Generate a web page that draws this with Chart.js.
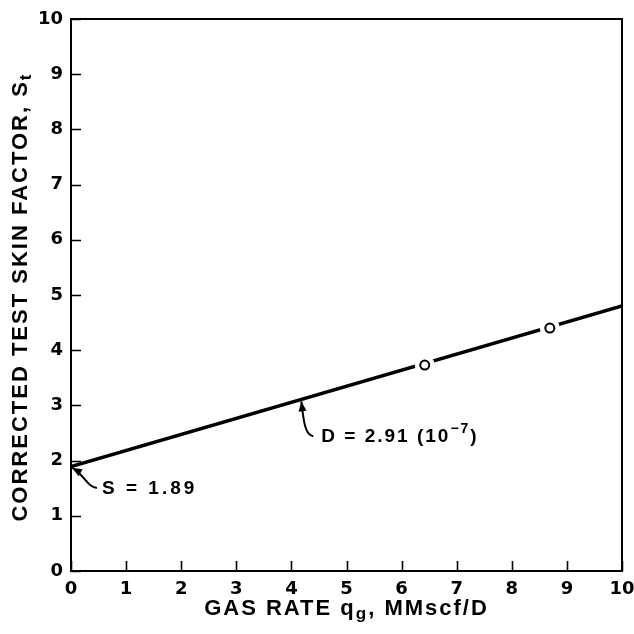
<!DOCTYPE html>
<html>
<head>
<meta charset="utf-8">
<script src="https://cdn.jsdelivr.net/npm/chart.js@4"></script>
<style>
    body { margin: 0; background: #fff; }
    canvas { display: block; }
</style>
</head>
<body>
<canvas id="skinChart" width="634" height="634"></canvas>
<script>
// fitted line S't vs gas rate
var gasRate = [0, 10];
var skinFit = [1.89, 4.80];

// measured tests
var testRate = [6.42, 8.69];
var testSkin = [3.73, 4.40];

var xTicks = [0, 1, 2, 3, 4, 5, 6, 7, 8, 9, 10];
var yTicks = [0, 1, 2, 3, 4, 5, 6, 7, 8, 9, 10];

var FONT = '"Liberation Sans", Arial, sans-serif';
var TICK_FONT = '"DejaVu Sans", sans-serif';

function toPoints(xs, ys) {
    return xs.map(function (x, i) { return { x: x, y: ys[i] }; });
}

// draw text made of pieces (for sub/superscripts)
function drawRich(ctx, parts, x, y, size, align) {
    var widths = parts.map(function (p) {
        ctx.font = 'bold ' + Math.round(size * (p.scale || 1)) + 'px ' + FONT;
        return ctx.measureText(p.text).width;
    });
    var total = widths.reduce(function (a, b) { return a + b; }, 0);
    var cx = align === 'center' ? x - total / 2 : x;
    parts.forEach(function (p, i) {
        ctx.font = 'bold ' + Math.round(size * (p.scale || 1)) + 'px ' + FONT;
        ctx.fillText(p.text, cx, y + (p.dy || 0));
        cx += widths[i];
    });
}

function drawArrow(ctx, tip, cp2, cp1, tail) {
    ctx.beginPath();
    ctx.moveTo(tail[0], tail[1]);
    ctx.bezierCurveTo(cp1[0], cp1[1], cp2[0], cp2[1], tip[0], tip[1]);
    ctx.stroke();
    var ang = Math.atan2(tip[1] - cp2[1], tip[0] - cp2[0]);
    var len = 10, half = 4;
    ctx.beginPath();
    ctx.moveTo(tip[0], tip[1]);
    ctx.lineTo(tip[0] - len * Math.cos(ang) + half * Math.sin(ang), tip[1] - len * Math.sin(ang) - half * Math.cos(ang));
    ctx.lineTo(tip[0] - len * Math.cos(ang) - half * Math.sin(ang), tip[1] - len * Math.sin(ang) + half * Math.cos(ang));
    ctx.closePath();
    ctx.fill();
}

var paperDecor = {
    id: 'paperDecor',
    afterDraw: function (chart) {
        var ctx = chart.ctx;
        var a = chart.chartArea;
        var xs = chart.scales.x, ys = chart.scales.y;
        ctx.save();
        ctx.strokeStyle = '#000';
        ctx.fillStyle = '#000';

        // frame
        ctx.lineWidth = 2;
        ctx.strokeRect(a.left, a.top, a.right - a.left, a.bottom - a.top);

        // inward ticks
        ctx.beginPath();
        xTicks.forEach(function (v) {
            var px = Math.round(xs.getPixelForValue(v)) + 0.5;
            ctx.moveTo(px, a.bottom);
            ctx.lineTo(px, a.bottom - 10);
        });
        yTicks.forEach(function (v) {
            var py = Math.round(ys.getPixelForValue(v)) + 0.5;
            ctx.moveTo(a.left, py);
            ctx.lineTo(a.left + 10, py);
        });
        ctx.lineWidth = 1.6;
        ctx.stroke();

        // axis titles
        ctx.letterSpacing = '2px';
        ctx.textBaseline = 'middle';
        ctx.textAlign = 'left';
        drawRich(ctx, [
            { text: 'GAS RATE q' },
            { text: 'g', scale: 0.75, dy: 5 },
            { text: ', MMscf/D' }
        ], (a.left + a.right) / 2, 609, 22, 'center');

        ctx.save();
        ctx.translate(21, (a.top + a.bottom) / 2 + 2);
        ctx.rotate(-Math.PI / 2);
        drawRich(ctx, [
            { text: 'CORRECTED TEST SKIN FACTOR, S' },
            { text: 't', scale: 0.75, dy: 5 }
        ], 0, 0, 22, 'center');
        ctx.restore();

        // annotations
        ctx.lineWidth = 2;
        ctx.letterSpacing = '2px';
        var d = [xs.getPixelForValue(4.18), ys.getPixelForValue(3.11)];
        drawArrow(ctx, [d[0], d[1] + 2], [d[0] + 2, d[1] + 18], [d[0] + 3, d[1] + 36], [d[0] + 12, d[1] + 37]);
        drawRich(ctx, [
            { text: 'D = 2.91 (10' },
            { text: '\u22127', scale: 0.72, dy: -7 },
            { text: ')' }
        ], d[0] + 20, d[1] + 37, 19, 'left');

        var s = [xs.getPixelForValue(0), ys.getPixelForValue(1.89)];
        drawArrow(ctx, [s[0] + 1, s[1] + 1], [s[0] + 13, s[1] + 8], [s[0] + 18, s[1] + 22], [s[0] + 26, s[1] + 21]);
        ctx.letterSpacing = '3px';
        drawRich(ctx, [{ text: 'S = 1.89' }], s[0] + 31, s[1] + 22, 19, 'left');

        ctx.restore();
    }
};

var ctx = document.getElementById('skinChart').getContext('2d');
var skinChart = new Chart(ctx, {
    type: 'scatter',
    data: {
        datasets: [{
            label: 'fit',
            data: toPoints(gasRate, skinFit),
            showLine: true,
            borderColor: '#000',
            borderWidth: 3.5,
            pointRadius: 0,
            order: 3
        }, {
            label: 'gap',
            data: toPoints(testRate, testSkin),
            pointRadius: 10,
            pointBorderWidth: 0,
            pointBackgroundColor: '#fff',
            pointBorderColor: '#fff',
            order: 2
        }, {
            label: 'tests',
            data: toPoints(testRate, testSkin),
            pointRadius: 4.5,
            pointBorderWidth: 2,
            pointBackgroundColor: '#fff',
            pointBorderColor: '#000',
            order: 1
        }]
    },
    options: {
        responsive: false,
        animation: false,
        devicePixelRatio: 1,
        layout: { padding: { top: 19, right: 12, left: 0, bottom: 0 } },
        plugins: {
            legend: { display: false },
            tooltip: { enabled: false }
        },
        scales: {
            x: {
                type: 'linear',
                min: 0,
                max: 10,
                afterFit: function (scale) {
                    scale.height = 63;
                    scale.paddingLeft = 0;
                    scale.paddingRight = 0;
                },
                afterBuildTicks: function (scale) {
                    scale.ticks = xTicks.map(function (v) { return { value: v }; });
                },
                grid: { display: false, drawTicks: false },
                border: { display: false },
                ticks: {
                    color: '#000',
                    padding: 8,
                    maxRotation: 0,
                    font: { family: TICK_FONT, size: 18, weight: 'bold' }
                }
            },
            y: {
                type: 'linear',
                min: 0,
                max: 10,
                afterFit: function (scale) {
                    scale.width = 71;
                    scale.paddingTop = 0;
                    scale.paddingBottom = 0;
                },
                afterBuildTicks: function (scale) {
                    scale.ticks = yTicks.map(function (v) { return { value: v }; });
                },
                grid: { display: false, drawTicks: false },
                border: { display: false },
                ticks: {
                    color: '#000',
                    padding: 8,
                    font: { family: TICK_FONT, size: 18, weight: 'bold' }
                }
            }
        }
    },
    plugins: [paperDecor]
});
</script>
</body>
</html>
